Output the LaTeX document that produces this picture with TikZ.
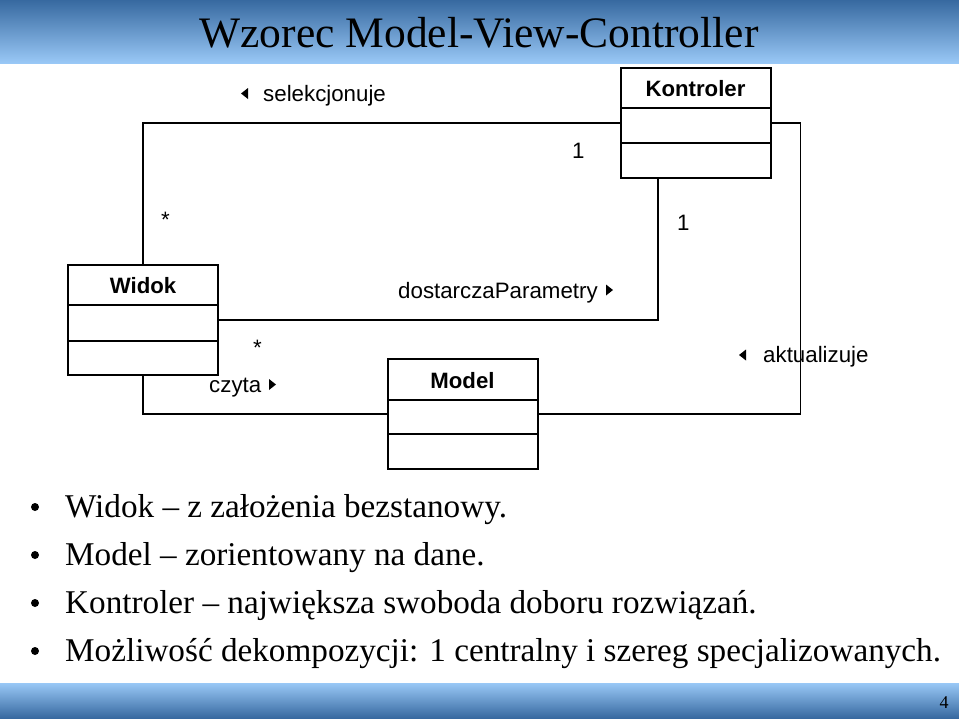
\documentclass[tikz,border=0pt]{standalone}
\usepackage{fontspec}
\setmainfont{Liberation Serif}
\setsansfont{Liberation Sans}
\definecolor{hdark}{RGB}{55,105,160}
\definecolor{hlight}{RGB}{153,200,246}
\tikzset{
  classbox/.style={draw=black, line width=2pt, minimum width=150pt, minimum height=110pt, inner sep=0pt},
  classname/.style={font=\sffamily\bfseries\fontsize{22.2}{26}\selectfont, inner sep=0pt, anchor=base},
  lbl/.style={font=\sffamily\fontsize{22.3}{26}\selectfont, inner sep=0pt, anchor=base west},
  conn/.style={draw=black, line width=1.5pt},
  bul/.style={font=\fontsize{33.2}{40}\selectfont, inner sep=0pt, anchor=base west},
}
\begin{document}
\begin{tikzpicture}[x=1pt,y=-1pt]
\useasboundingbox (0,0) rectangle (959,718);
\fill[white] (0,0) rectangle (959,718);
% header and footer bars
\shade[top color=hdark, bottom color=hlight] (0,0) rectangle (959,63);
\shade[top color=hlight, bottom color=hdark] (0,683) rectangle (959,718);
\node[font=\fontsize{43.5}{50}\selectfont, inner sep=0pt, anchor=base] (title) at (479,47) {Wzorec Model-View-Controller};
\node[font=\fontsize{18}{20}\selectfont, inner sep=0pt, anchor=base] (page) at (944,708) {4};

% classes
\node[classbox] (K) at (695.5,123) {};
\node[classbox] (W) at (143,320) {};
\node[classbox] (M) at (462.5,414) {};
\draw[line width=2pt] (620,108) -- (771,108) (620,143) -- (771,143);
\draw[line width=2pt] (68,305) -- (218,305) (68,341) -- (218,341);
\draw[line width=2pt] (388,400) -- (537,400) (388,434) -- (537,434);
\node[classname] (Kn) at (695.5,96) {Kontroler};
\node[classname] (Wn) at (143,293) {Widok};
\node[classname] (Mn) at (462.5,388) {Model};

% connectors
\draw[conn] (W.north) |- (K.west);
\draw[conn] (W.east) -| ([xshift=-37.5pt]K.south);
\draw[conn] (K.east) -- ++(29,0) |- (M.east);
\draw[conn] (W.south) |- (M.west);

% labels
\node[lbl] (sel) at (263,101) {selekcjonuje};
\fill (241,93.5) -- (248,88) -- (248,99) -- cycle;
\node[lbl] (dp) at (398,298) {dostarczaParametry};
\fill (613,290) -- (606,284.5) -- (606,295.5) -- cycle;
\node[lbl] (cz) at (209,392) {czyta};
\fill (276,384.5) -- (269,379) -- (269,390) -- cycle;
\node[lbl] (ak) at (763,362) {aktualizuje};
\fill (739,355) -- (746,349.5) -- (746,360.5) -- cycle;
\node[lbl] (m1) at (572,158) {1};
\node[lbl] (m2) at (677,230) {1};
\node[lbl] (m3) at (161,227) {*};
\node[lbl] (m4) at (253,355) {*};

% bullets
\foreach \b/\t [count=\i] in {517/{Widok – z założenia bezstanowy.},565/{Model – zorientowany na dane.},613/{Kontroler – największa swoboda doboru rozwiązań.},661/{Możliwość dekompozycji: 1 centralny i szereg specjalizowanych.}}{
  \fill (35,\b-10) circle (4);
  \node[bul] (b\i) at (65,\b) {\t};
}
\end{tikzpicture}
\end{document}
